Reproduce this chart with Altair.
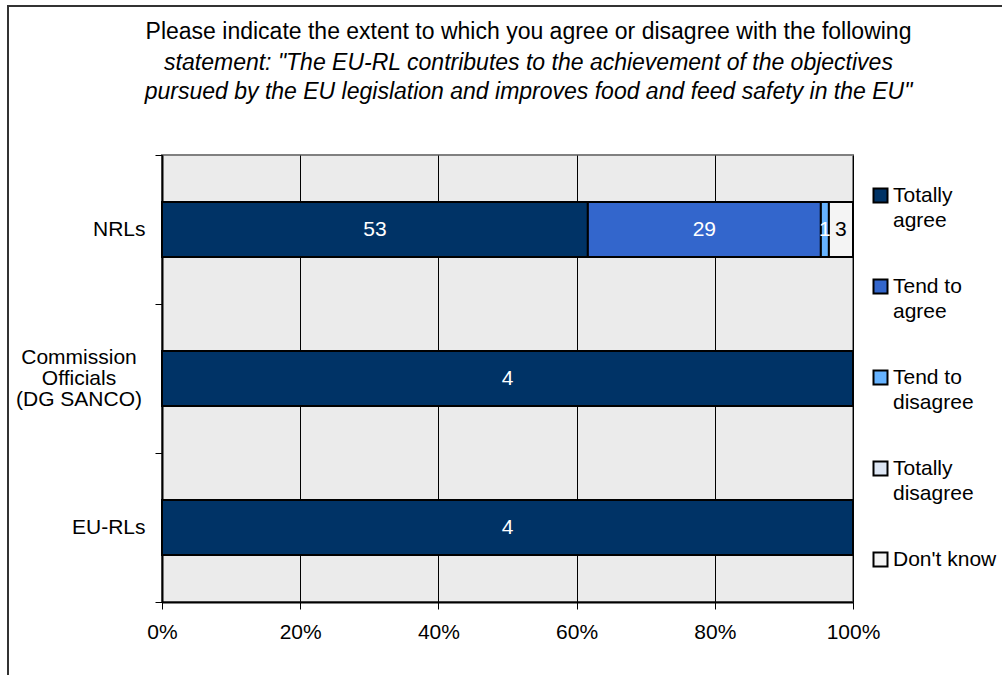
import altair as alt
import pandas as pd

# ---- data ----
groups = ["NRLs", "Commission\nOfficials\n(DG SANCO)", "EU-RLs"]
categories = ["Totally\nagree", "Tend to\nagree", "Tend to\ndisagree", "Totally\ndisagree", "Don't know"]
colors = ["#003366", "#3366CC", "#66B3FF", "#DDE6F4", "#F4F4F4"]
nrls_counts = [53, 29, 1, 0, 3]
commission_counts = [4, 0, 0, 0, 0]
eurls_counts = [4, 0, 0, 0, 0]
x_ticks = [0, 0.2, 0.4, 0.6, 0.8, 1.0]

title_line1 = "Please indicate the extent to which you agree or disagree with the following"
title_lines_2_3 = [
    'statement: "The EU-RL contributes to the achievement of the objectives',
    'pursued by the EU legislation and improves food and feed safety in the EU"',
]

rows = []
for g, vals in zip(groups, [nrls_counts, commission_counts, eurls_counts]):
    for i, (c, v) in enumerate(zip(categories, vals)):
        rows.append({"group": g, "category": c, "value": v, "order": i})
df = pd.DataFrame(rows)

FONT = "Liberation Sans"
FS = 21

y_scale = alt.Scale(domain=groups, paddingInner=0, paddingOuter=0)

base = (
    alt.Chart(df)
    .transform_joinaggregate(total="sum(value)", groupby=["group"])
    .transform_window(cum="sum(value)", groupby=["group"],
                      sort=[alt.SortField("order")], frame=[None, 0])
    .transform_calculate(
        start="(datum.cum - datum.value) / datum.total",
        end="datum.cum / datum.total",
        mid="(datum.cum - datum.value / 2) / datum.total",
    )
    .transform_filter("datum.value > 0")
)

y_enc = alt.Y(
    "group:N",
    scale=y_scale,
    axis=alt.Axis(
        title=None,
        labelExpr="indexof(datum.label, 'Commission') >= 0 ? '' : datum.label",
        labelFont=FONT,
        labelFontSize=FS,
        labelColor="black",
        labelPadding=10,
        tickBand="extent",
        tickSize=7,
        tickColor="black",
        domainColor="black",
        domainWidth=2,
        grid=False,
    ),
)

bars = base.mark_bar(stroke="black", strokeWidth=2, height={"band": 0.37}).encode(
    x=alt.X(
        "start:Q",
        scale=alt.Scale(domain=[0, 1], nice=False),
        axis=alt.Axis(
            title=None,
            format=".0%",
            values=x_ticks,
            grid=True,
            gridColor="black",
            gridWidth=1,
            tickSize=7,
            tickColor="black",
            domainColor="black",
            domainWidth=2,
            labelFont=FONT,
            labelFontSize=FS,
            labelColor="black",
            labelPadding=12,
            labelFlush=False,
        ),
    ),
    x2="end:Q",
    y=y_enc,
    color=alt.Color(
        "category:N",
        scale=alt.Scale(domain=categories, range=colors),
        legend=alt.Legend(
            title=None,
            orient="none",
            legendX=708,
            legendY=30,
            symbolType="square",
            symbolSize=196,
            symbolStrokeColor="black",
            symbolStrokeWidth=2,
            symbolOpacity=1,
            labelExpr="split(datum.label, '\\n')",
            labelFont=FONT,
            labelFontSize=FS,
            labelColor="black",
            labelBaseline="middle",
            labelLimit=300,
            labelOffset=2,
            rowPadding=44,
            padding=0,
        ),
    ),
    order=alt.Order("order:Q"),
)

labels = base.mark_text(font=FONT, fontSize=FS).encode(
    x="mid:Q",
    y=alt.Y("group:N", scale=y_scale),
    text="value:Q",
    color=alt.condition("datum.order == 4", alt.value("black"), alt.value("white")),
)

# multi-line category label, centred like the reference
commission_label = (
    alt.Chart(pd.DataFrame({"group": [groups[1]]}))
    .mark_text(font=FONT, fontSize=FS, align="center", baseline="middle",
               lineBreak="\n", lineHeight=21, dy=-21, color="black")
    .encode(y=alt.Y("group:N", scale=y_scale), x=alt.value(-83), text="group:N")
)

frame = alt.Chart(pd.DataFrame({"a": [0]})).mark_rect(
    fill="transparent", stroke="#333333", strokeWidth=2
).encode(
    x=alt.value(-154), y=alt.value(-149), x2=alt.value(1000), y2=alt.value(700)
)

chart = (
    alt.layer(frame, bars, labels, commission_label)
    .properties(
        width=691,
        height=447,
        title=alt.TitleParams(
            text=title_line1,
            subtitle=title_lines_2_3,
            anchor="middle",
            frame="group",
            dx=21,
            dy=145,
            offset=46,
            font=FONT,
            fontSize=23,
            fontWeight="normal",
            color="black",
            subtitleFont=FONT,
            subtitleFontSize=23,
            subtitleFontStyle="italic",
            subtitleColor="black",
            subtitleLineHeight=29,
            subtitlePadding=8,
        ),
        autosize=alt.AutoSizeParams(type="none"),
        padding={"left": 162, "top": 155, "right": 149, "bottom": 73},
    )
    .configure(background="white", style={"guide-label": {"lineHeight": 25}})
    .configure_view(fill="#EBEBEB", stroke="#808080", strokeWidth=2)
)

chart.save("out.html", embed_options={"renderer": "svg", "actions": False})
